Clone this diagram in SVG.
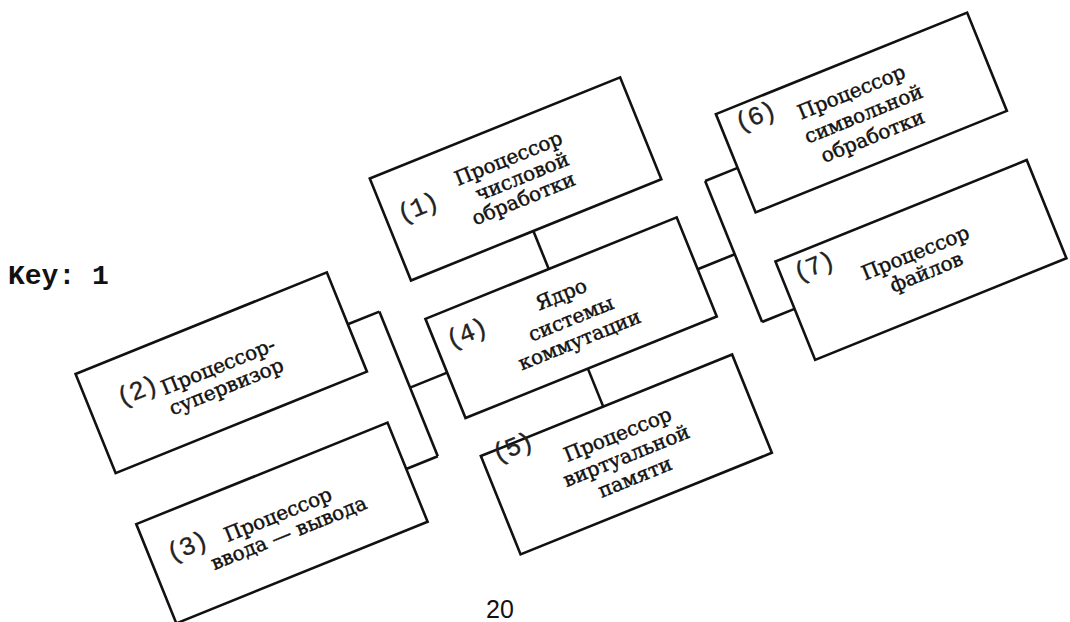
<svg xmlns="http://www.w3.org/2000/svg" width="1070" height="622" viewBox="0 0 1070 622">
<style>
.box{fill:none;stroke:#111;stroke-width:2.6}
.con line{stroke:#111;stroke-width:2.6}
.t{font-family:"DejaVu Serif","Liberation Serif",serif;font-size:20px;fill:#111;stroke:#111;stroke-width:0.45;text-anchor:middle}
.n{font-family:"Liberation Mono","DejaVu Sans Mono",monospace;font-size:26px;letter-spacing:-2px;fill:#222;stroke:#222;stroke-width:0.3;text-anchor:middle}
</style>
<rect width="1070" height="622" fill="#fff"/>
<text x="8" y="284" font-family="Liberation Mono, monospace" font-size="28" font-weight="bold" fill="#111">Key: 1</text>
<text x="486" y="618" font-family="Liberation Sans, Arial, sans-serif" font-size="25" fill="#111">20</text>
<g transform="rotate(-22)">
<g id="connectors" class="con">
<line x1="201" y1="431" x2="235" y2="431"/>
<line x1="235" y1="431" x2="235" y2="587"/>
<line x1="201" y1="587" x2="235" y2="587"/>
<line x1="235" y1="513" x2="275" y2="513"/>
<line x1="408" y1="414" x2="408" y2="455"/>
<line x1="407" y1="562" x2="407" y2="603"/>
<line x1="546" y1="511" x2="586" y2="511"/>
<line x1="586" y1="432" x2="586" y2="584"/>
<line x1="586" y1="432" x2="621" y2="432"/>
<line x1="586" y1="584" x2="621" y2="584"/>
</g>
<g id="node1">
<rect class="box" x="276" y="304" width="270" height="110"/>
<text class="n" x="309" y="357">(1)</text>
<text class="t" x="412" y="344">Процессор</text>
<text class="t" x="418" y="366">числовой</text>
<text class="t" x="411" y="387">обработки</text>
</g>
<g id="node2">
<rect class="box" x="-70" y="375" width="271" height="107"/>
<text class="n" x="-20" y="422">(2)</text>
<text class="t" x="65" y="428">Процессор-</text>
<text class="t" x="65" y="450">супервизор</text>
</g>
<g id="node3">
<rect class="box" x="-70" y="537" width="271" height="107"/>
<text class="n" x="-32" y="585">(3)</text>
<text class="t" x="65" y="588">Процессор</text>
<text class="t" x="68" y="609">ввода — вывода</text>
</g>
<g id="node4">
<rect class="box" x="275" y="455" width="271" height="107"/>
<text class="n" x="307" y="492">(4)</text>
<text class="t" x="410" y="490">Ядро</text>
<text class="t" x="410" y="516">системы</text>
<text class="t" x="410" y="539">коммутации</text>
</g>
<g id="node5">
<rect class="box" x="275" y="603" width="271" height="106"/>
<text class="n" x="307" y="615">(5)</text>
<text class="t" x="410" y="641">Процессор</text>
<text class="t" x="410" y="664">виртуальной</text>
<text class="t" x="410" y="687">памяти</text>
</g>
<g id="node6">
<rect class="box" x="621" y="374" width="271" height="106"/>
<text class="n" x="656" y="399">(6)</text>
<text class="t" x="755" y="411">Процессор</text>
<text class="t" x="758" y="436">символьной</text>
<text class="t" x="758" y="460">обработки</text>
</g>
<g id="node7">
<rect class="box" x="621" y="533" width="271" height="106"/>
<text class="n" x="654" y="560">(7)</text>
<text class="t" x="754" y="584">Процессор</text>
<text class="t" x="757" y="606">файлов</text>
</g>
</g>
</svg>
